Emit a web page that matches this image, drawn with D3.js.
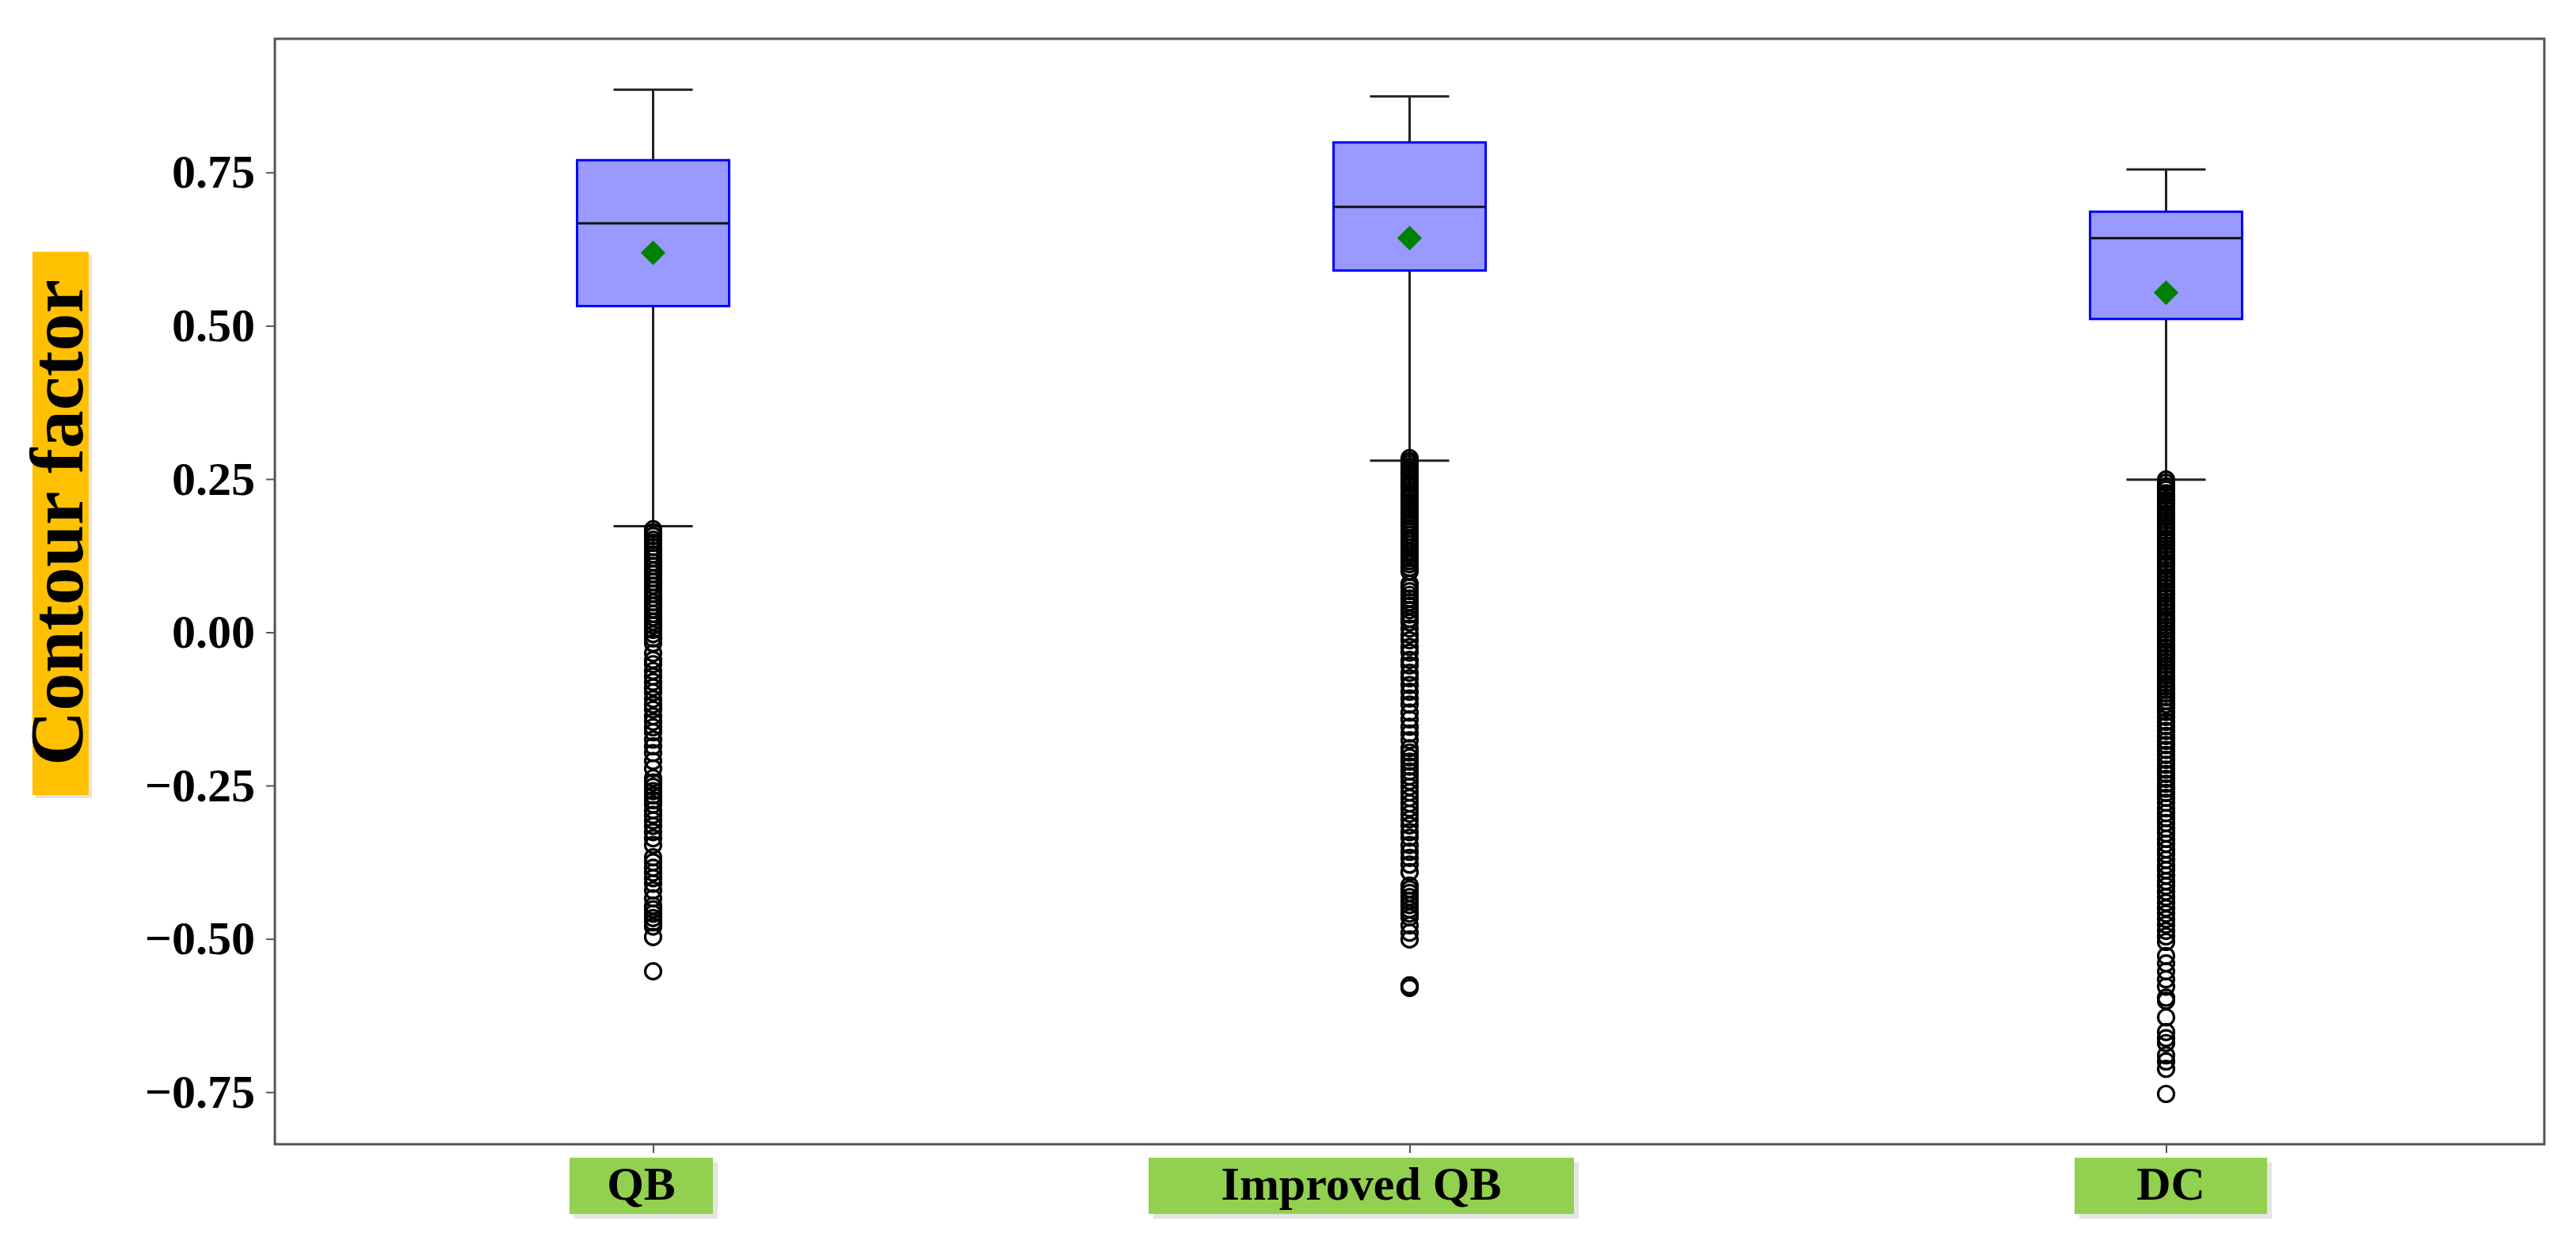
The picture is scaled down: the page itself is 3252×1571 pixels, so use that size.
<!DOCTYPE html>
<html>
<head>
<meta charset="utf-8">
<script src="https://cdn.jsdelivr.net/npm/d3@7"></script>
<style>
    html, body { margin: 0; padding: 0; background: #fff; }
    svg { display: block; }
</style>
</head>
<body>
<div id="chart"></div>
<script>
// ── Data ────────────────────────────────────────────────────────────────────

const categories = ['QB', 'Improved QB', 'DC'];
const whiskerLow = [0.173, 0.280, 0.249];
const q1 = [0.532, 0.590, 0.511];
const medians = [0.667, 0.694, 0.643];
const q3 = [0.770, 0.799, 0.686];
const whiskerHigh = [0.885, 0.874, 0.755];
const means = [0.619, 0.643, 0.554];

const outliersQB = [
    0.168, 0.163, 0.157, 0.151, 0.146, 0.139, 0.133, 0.127, 0.121, 0.114, 0.108, 0.101,
    0.095, 0.088, 0.082, 0.076, 0.069, 0.063, 0.056, 0.049, 0.043, 0.037, 0.030, 0.024,
    0.017, 0.011, 0.004, -0.003, -0.010, -0.018,
    -0.034, -0.045, -0.052, -0.063, -0.072, -0.081, -0.090, -0.098, -0.109, -0.118,
    -0.126, -0.137, -0.146, -0.155, -0.163, -0.175, -0.186, -0.197, -0.210, -0.222,
    -0.238, -0.245, -0.252, -0.259, -0.266, -0.274, -0.281, -0.290, -0.298, -0.307,
    -0.316, -0.326, -0.336, -0.347,
    -0.367, -0.375, -0.384, -0.392, -0.401, -0.410, -0.421, -0.434,
    -0.446, -0.452, -0.459, -0.466, -0.473, -0.480, -0.497, -0.553
];
const outliersImproved = [
    0.284, 0.279, 0.275, 0.270, 0.265, 0.261, 0.256, 0.251, 0.246, 0.242, 0.237, 0.232,
    0.227, 0.223, 0.218, 0.213, 0.208, 0.203, 0.199, 0.194, 0.189, 0.184, 0.179, 0.174,
    0.169, 0.164, 0.159, 0.153, 0.148, 0.143, 0.138, 0.132, 0.127, 0.121, 0.116, 0.111,
    0.105, 0.099,
    0.079, 0.073, 0.067, 0.061, 0.055, 0.049, 0.043, 0.036, 0.029, 0.022, 0.016,
    0.006, -0.004, -0.013, -0.024, -0.033, -0.045, -0.054, -0.066, -0.075, -0.086,
    -0.097, -0.108, -0.118, -0.131, -0.142, -0.154, -0.165, -0.176,
    -0.189, -0.196, -0.204, -0.211, -0.219, -0.227, -0.235, -0.243, -0.252, -0.261,
    -0.270, -0.279, -0.287,
    -0.296, -0.305, -0.315, -0.326, -0.335, -0.347, -0.358, -0.368, -0.379, -0.391,
    -0.413, -0.419, -0.425, -0.432, -0.438, -0.445, -0.452, -0.459, -0.465,
    -0.478, -0.490, -0.501, -0.576, -0.580
];
const outliersDC = [
    0.249, 0.244, 0.238, 0.233, 0.227, 0.222, 0.216, 0.210, 0.205, 0.199, 0.193, 0.188,
    0.182, 0.176, 0.171, 0.165, 0.159, 0.153, 0.148, 0.142, 0.136, 0.131, 0.125, 0.119,
    0.113, 0.108, 0.102, 0.096, 0.090, 0.085, 0.079, 0.073, 0.067, 0.062, 0.056, 0.050,
    0.044, 0.039, 0.033, 0.027, 0.021, 0.016, 0.010, 0.004, -0.002, -0.008, -0.013,
    -0.019, -0.025, -0.031, -0.036, -0.042, -0.048, -0.054, -0.060, -0.065, -0.071,
    -0.077, -0.083, -0.089, -0.094, -0.100, -0.106, -0.112, -0.118, -0.124, -0.130,
    -0.138, -0.146, -0.153, -0.161, -0.169, -0.177, -0.184, -0.192, -0.200, -0.208,
    -0.216, -0.224, -0.231, -0.239, -0.247, -0.255, -0.262, -0.270, -0.278, -0.287,
    -0.295, -0.303, -0.311, -0.320, -0.328, -0.337, -0.345, -0.354, -0.362, -0.371,
    -0.380, -0.388, -0.397, -0.406, -0.414, -0.423, -0.432, -0.441, -0.450, -0.459,
    -0.468, -0.477, -0.487, -0.496, -0.505,
    -0.528, -0.540, -0.553, -0.566, -0.578, -0.596, -0.601, -0.628, -0.652, -0.662,
    -0.670, -0.690, -0.700, -0.712, -0.753
];
const outliers = [outliersQB, outliersImproved, outliersDC];

const yTicks = [-0.75, -0.5, -0.25, 0, 0.25, 0.5, 0.75];
const yDomain = [-0.835, 0.968];
const yTitle = 'Contour factor';

// ── Layout ──────────────────────────────────────────────────────────────────

const W = 3252;
const H = 1571;
const PLOT = { left: 347, right: 3212, top: 49, bottom: 1445 };
const FONT = '"Liberation Serif", "Times New Roman", serif';
const BOX_HALF = 96;
const CAP_HALF = 50;
const LABEL_BOX = { top: 1462, height: 71, widths: [181, 537, 243], shift: [-15, -61, 6] };

const x = d3.scalePoint().domain(categories).range([PLOT.left, PLOT.right]).padding(0.5);
const y = d3.scaleLinear().domain(yDomain).range([PLOT.bottom, PLOT.top]);

const svg = d3.select('#chart').append('svg')
    .attr('width', W)
    .attr('height', H)
    .attr('viewBox', `0 0 ${W} ${H}`);

svg.append('rect').attr('width', W).attr('height', H).attr('fill', '#fff');

// ── Boxes ───────────────────────────────────────────────────────────────────

const groups = svg.append('g').selectAll('g')
    .data(categories.map((c, i) => ({
        cat: c, lo: whiskerLow[i], q1: q1[i], med: medians[i], q3: q3[i],
        hi: whiskerHigh[i], mean: means[i], out: outliers[i]
    })))
    .join('g')
    .attr('transform', d => `translate(${x(d.cat)},0)`);

// whiskers
groups.append('line')
    .attr('y1', d => y(d.hi)).attr('y2', d => y(d.q3))
    .attr('stroke', '#222').attr('stroke-width', 3);
groups.append('line')
    .attr('y1', d => y(d.q1)).attr('y2', d => y(d.lo))
    .attr('stroke', '#222').attr('stroke-width', 3);
groups.selectAll('.cap')
    .data(d => [d.hi, d.lo])
    .join('line')
    .attr('class', 'cap')
    .attr('x1', -CAP_HALF).attr('x2', CAP_HALF)
    .attr('y1', v => y(v)).attr('y2', v => y(v))
    .attr('stroke', '#222').attr('stroke-width', 3);

// box
groups.append('rect')
    .attr('x', -BOX_HALF)
    .attr('width', BOX_HALF * 2)
    .attr('y', d => y(d.q3))
    .attr('height', d => y(d.q1) - y(d.q3))
    .attr('fill', '#9999ff')
    .attr('stroke', '#0000ff')
    .attr('stroke-width', 3);

groups.append('line')
    .attr('x1', -BOX_HALF).attr('x2', BOX_HALF)
    .attr('y1', d => y(d.med)).attr('y2', d => y(d.med))
    .attr('stroke', '#111').attr('stroke-width', 3);

// outliers (hollow rings)
groups.selectAll('.flier')
    .data(d => d.out)
    .join('circle')
    .attr('class', 'flier')
    .attr('cy', v => y(v))
    .attr('r', 10)
    .attr('fill', 'none')
    .attr('stroke', '#000')
    .attr('stroke-width', 3.2);

// mean marker
groups.append('path')
    .attr('d', d3.symbol(d3.symbolDiamond2, 620))
    .attr('transform', d => `translate(0,${y(d.mean)})`)
    .attr('fill', '#008000');

// ── Frame and axes ──────────────────────────────────────────────────────────

svg.append('rect')
    .attr('x', PLOT.left).attr('y', PLOT.top)
    .attr('width', PLOT.right - PLOT.left)
    .attr('height', PLOT.bottom - PLOT.top)
    .attr('fill', 'none')
    .attr('stroke', '#555')
    .attr('stroke-width', 3);

const yAxis = svg.append('g')
    .attr('transform', `translate(${PLOT.left},0)`)
    .call(d3.axisLeft(y).tickValues(yTicks).tickSize(11).tickPadding(14)
        .tickFormat(d => d3.format('.2f')(d).replace('-', '\u2212')));
yAxis.select('.domain').remove();
yAxis.selectAll('.tick line').attr('stroke', '#555').attr('stroke-width', 2);
yAxis.selectAll('.tick text')
    .attr('fill', '#000')
    .attr('font-family', FONT)
    .attr('font-weight', 'bold')
    .attr('font-size', 60);

const xAxis = svg.append('g')
    .attr('transform', `translate(0,${PLOT.bottom})`)
    .call(d3.axisBottom(x).tickSize(11).tickFormat(''));
xAxis.select('.domain').remove();
xAxis.selectAll('.tick line').attr('stroke', '#555').attr('stroke-width', 2);

// category labels on green boxes
const lab = svg.append('g').selectAll('g')
    .data(categories)
    .join('g')
    .attr('transform', (d, i) => `translate(${x(d) + LABEL_BOX.shift[i]},${LABEL_BOX.top})`);
lab.append('rect')
    .attr('x', (d, i) => -LABEL_BOX.widths[i] / 2 + 6)
    .attr('y', 6)
    .attr('width', (d, i) => LABEL_BOX.widths[i])
    .attr('height', LABEL_BOX.height)
    .attr('fill', '#e4e4e4');
lab.append('rect')
    .attr('x', (d, i) => -LABEL_BOX.widths[i] / 2)
    .attr('width', (d, i) => LABEL_BOX.widths[i])
    .attr('height', LABEL_BOX.height)
    .attr('fill', '#92d050');
lab.append('text')
    .attr('y', 53)
    .attr('text-anchor', 'middle')
    .attr('font-family', FONT)
    .attr('font-weight', 'bold')
    .attr('font-size', 60)
    .attr('fill', '#000')
    .text(d => d);

// y title on yellow box
const yt = svg.append('g');
yt.append('rect').attr('x', 45).attr('y', 322).attr('width', 71).attr('height', 686).attr('fill', '#e4e4e4');
yt.append('rect').attr('x', 41).attr('y', 318).attr('width', 71).attr('height', 686).attr('fill', '#ffc000');
yt.append('text')
    .attr('transform', 'translate(104,660) rotate(-90)')
    .attr('text-anchor', 'middle')
    .attr('font-family', FONT)
    .attr('font-weight', 'bold')
    .attr('font-size', 96)
    .attr('fill', '#000')
    .text(yTitle);
</script>
</body>
</html>
